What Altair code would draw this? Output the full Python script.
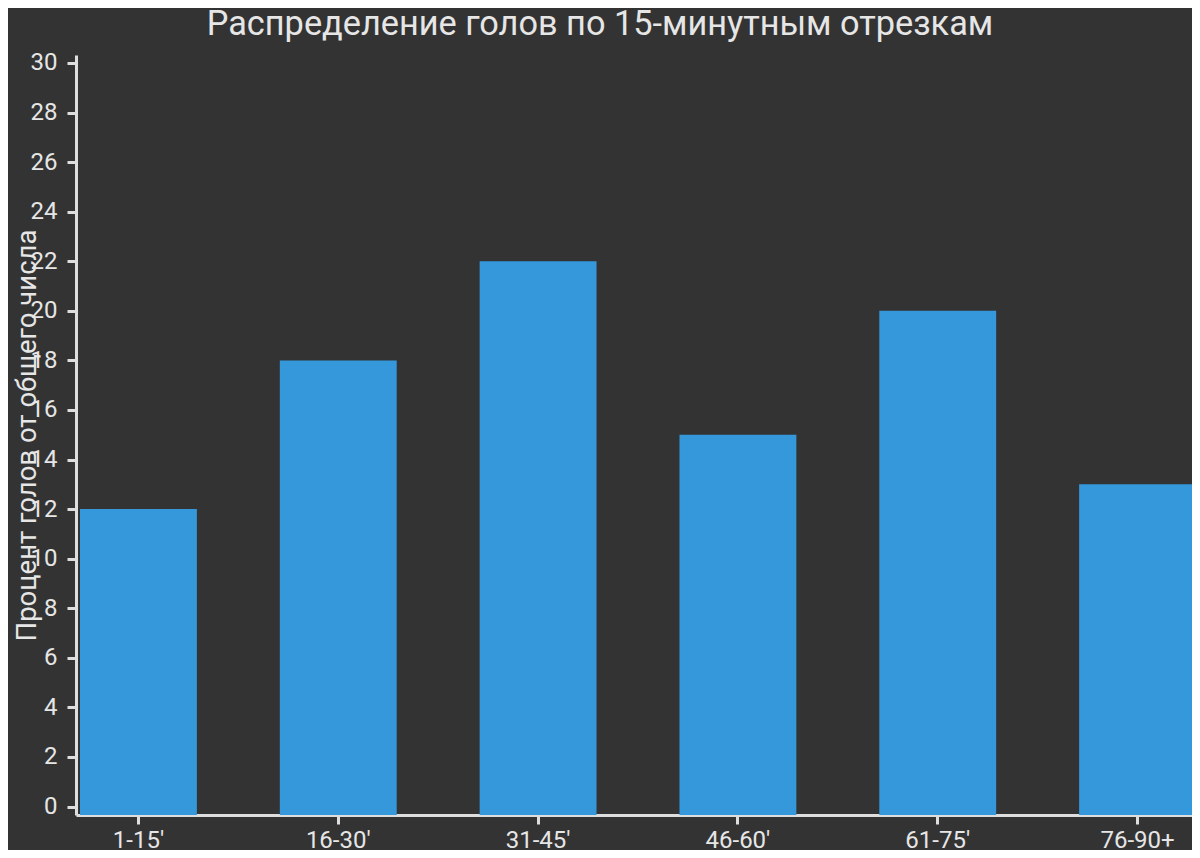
import altair as alt
import pandas as pd

categories = ["1-15'", "16-30'", "31-45'", "46-60'", "61-75'", "76-90+"]
percent = [12, 18, 22, 15, 20, 13]
y_ticks = list(range(0, 31, 2))

df = pd.DataFrame({"interval": categories, "pct": percent})

BG = "#333333"
FG = "#e6e6e6"
AX = "#dedede"
FONT = "Roboto"

y_min, y_max = -0.34, 30.32

chart = (
    alt.Chart(df)
    .mark_bar(color="#3498db")
    .encode(
        x=alt.X(
            "interval:N",
            sort=categories,
            scale=alt.Scale(paddingInner=0.415, paddingOuter=0.02),
            axis=alt.Axis(
                title=None,
                labelAngle=0,
                labelFontSize=24,
                labelColor=FG,
                labelFont=FONT,
                labelPadding=4,
                tickSize=9,
                tickWidth=3,
                tickColor=AX,
                domainColor=AX,
                domainWidth=3,
                grid=False,
            ),
        ),
        y=alt.Y(
            "pct:Q",
            scale=alt.Scale(domain=[y_min, y_max], nice=False, zero=False),
            axis=alt.Axis(
                title="Процент голов от общего числа",
                values=y_ticks,
                labelFontSize=24,
                labelColor=FG,
                labelFont=FONT,
                labelPadding=10,
                tickSize=9,
                tickWidth=3,
                tickColor=AX,
                domainColor=AX,
                domainWidth=3,
                grid=False,
                titleFontSize=27.5,
                titleFontWeight="normal",
                titleColor=FG,
                titleFont=FONT,
                titleAngle=-90,
                titleAlign="center",
                titleBaseline="middle",
                titleX=-49,
                titleY=380,
            ),
        ),
        y2=alt.datum(y_min),
    )
    .properties(
        width=1124,
        height=760,
        background=BG,
        autosize=alt.AutoSizeParams(type="none"),
        padding={"left": 68, "top": 47, "right": -8, "bottom": 35},
        title=alt.TitleParams(
            "Распределение голов по 15-минутным отрезкам",
            fontSize=34.3,
            fontWeight="normal",
            color=FG,
            font=FONT,
            anchor="middle",
            dx=-38,
            offset=9,
        ),
    )
    .configure_view(stroke=None)
)

chart.save("out.html", embed_options={"renderer": "svg", "actions": False})
